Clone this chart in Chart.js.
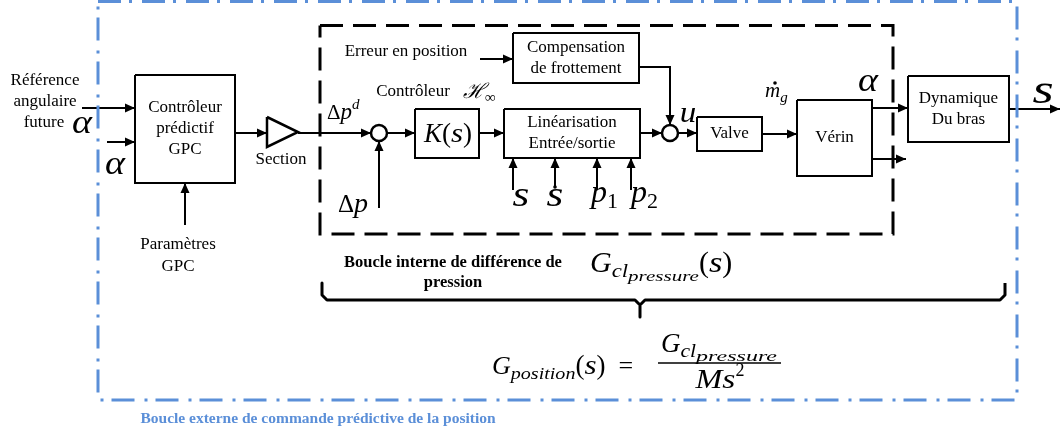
<!DOCTYPE html>
<html>
<head>
<meta charset="utf-8">
<script src="https://cdn.jsdelivr.net/npm/chart.js@4.4.1/dist/chart.umd.min.js"></script>
<style>
  html, body { margin: 0; padding: 0; background: #fff; }
  canvas { display: block; }
</style>
</head>
<body>
<canvas id="diagram" width="1060" height="434"></canvas>
<script>
// block texts and their boxes (diagram units, same as the 1060x434 frame)
var blockNames = ["Contrôleur\nprédictif\nGPC", "Compensation\nde frottement", "", "Linéarisation\nEntrée/sortie", "Valve", "Vérin", "Dynamique\nDu bras"];
var blockBoxes = [[135, 75, 235, 183], [513, 33, 639, 83], [415, 109, 479, 158], [504, 109, 640, 158], [697, 117, 762, 151], [797, 100, 872, 176], [908, 76, 1009, 142]];

// signal wires, every one ends with an arrow
var wirePaths = [
  [[82, 108], [135, 108]],
  [[107, 142], [135, 142]],
  [[185, 225], [185, 183]],
  [[235, 133], [267, 133]],
  [[298, 133], [371, 133]],
  [[379, 208], [379, 141]],
  [[387, 133], [415, 133]],
  [[479, 133], [504, 133]],
  [[480, 59], [513, 59]],
  [[513, 190], [513, 158]],
  [[555, 187], [555, 158]],
  [[597, 190], [597, 158]],
  [[631, 190], [631, 158]],
  [[640, 133], [662, 133]],
  [[639, 67], [670, 67], [670, 125]],
  [[678, 133], [697, 133]],
  [[762, 134], [797, 134]],
  [[872, 108], [908, 108]],
  [[872, 159], [906, 159]],
  [[1009, 109], [1060, 109]]
];

var sumPoints = [[379, 133], [670, 133]];
var gainTriangle = [[267, 117], [267, 147], [298, 132]];
var innerLoop = [320, 25.5, 893, 234];
var outerLoop = [98, 1.5, 1017, 400];
var bracePath = [[322, 283], [322, 295], [327, 300], [635, 300], [640, 305], [640, 317], [640, 305], [645, 300], [1000, 300], [1005, 295], [1005, 283]];

// plain labels: text, x, y, kind
var labelTexts = [
  ["Référence", 45, 81, "n"], ["angulaire", 45, 102, "n"], ["future", 44, 123, "n"],
  ["Section", 281, 160, "n"],
  ["Paramètres", 178, 245, "n"], ["GPC", 178, 267, "n"],
  ["Erreur en position", 406, 52, "n"],
  ["Contrôleur", 413, 92, "n"],
  ["Boucle interne de différence de", 453, 263, "b"], ["pression", 453, 283, "b"],
  ["Boucle externe de commande prédictive de la position", 318, 419, "blue"]
];

// math runs: [text, size, italic?, dy, stretch]
var mathLabels = [
  [82, 133, "center", [["α", 33, "i", 0, 1.15]]],
  [115, 174, "center", [["α", 33, "i", 0, 1.15]]],
  [327, 119, "left", [["Δ", 21, "n", 0], ["p", 23, "i", 0], ["d", 15, "i", -10]]],
  [338, 212, "left", [["Δ", 25, "n", 0], ["p", 28, "i", 0]]],
  [463, 98, "left", [["ℋ", 21, "i", 0], ["∞", 15, "n", 4]]],
  [448, 142, "center", [["K", 27, "i", 0], ["(", 27, "n", 0], ["s", 27, "i", 0, 1.15], [")", 27, "n", 0]]],
  [521, 206, "center", [["s", 36, "i", 0, 1.2]]],
  [555, 206, "center", [["s", 36, "i", 0, 1.2]]],
  [591, 202, "left", [["p", 32, "i", 0], ["1", 22, "n", 6]]],
  [631, 202, "left", [["p", 32, "i", 0], ["2", 22, "n", 6]]],
  [688, 122, "center", [["u", 30, "i", 0, 1.1]]],
  [765, 97, "left", [["m", 21, "i", 0], ["g", 15, "i", 5]]],
  [868, 91, "center", [["α", 33, "i", 0, 1.15]]],
  [1043, 103, "center", [["s", 42, "i", 0, 1.3]]],
  [590, 272, "left", [["G", 30, "i", 0], ["cl", 19, "i", 5, 1.2], ["pressure", 15, "i", 9, 1.4], ["(", 30, "n", 0], ["s", 30, "i", 0, 1.15], [")", 30, "n", 0]]],
  [492, 374, "left", [["G", 26, "i", 0], ["position", 17, "i", 5, 1.18], ["(", 27, "n", 0], ["s", 27, "i", 0, 1.15], [")", 27, "n", 0], ["  =", 26, "n", 0]]],
  [719, 352, "center", [["G", 27, "i", 0], ["cl", 18, "i", 5, 1.2], ["pressure", 15, "i", 9, 1.6]]],
  [720, 388, "center", [["M", 28, "i", 0, 1.15], ["s", 28, "i", 0, 1.2], ["2", 18, "n", -12]]]
];
var fractionBar = [[658, 363], [781, 363]];
var dotMarks = [[555, 187], [775, 83]];

var BLUE = "#5b8fd8";
var SERIF = '"Liberation Serif", "DejaVu Serif", serif';

function rectPoints(b) {
  return [{x: b[0], y: b[1]}, {x: b[2], y: b[1]}, {x: b[2], y: b[3]}, {x: b[0], y: b[3]}, {x: b[0], y: b[1]}];
}
function toPoints(list) {
  return list.map(function (p) { return {x: p[0], y: p[1]}; });
}
function lineSet(pts, color, width, dash) {
  return {
    type: "line", data: pts, showLine: true, borderColor: color, borderWidth: width,
    borderDash: dash, pointRadius: 0, fill: false, tension: 0, clip: false,
    borderJoinStyle: "miter", borderCapStyle: "butt"
  };
}

var datasets = [];
datasets.push(lineSet(rectPoints(outerLoop), BLUE, 3, [23, 8, 3, 10]));
datasets.push(lineSet(rectPoints(innerLoop), "#000", 3, [23, 10]));
blockBoxes.forEach(function (b) { datasets.push(lineSet(rectPoints(b), "#000", 2, [])); });
wirePaths.forEach(function (w) { datasets.push(lineSet(toPoints(w), "#000", 2, [])); });
datasets.push(lineSet(toPoints(gainTriangle.concat([gainTriangle[0]])), "#000", 2.5, []));
var brace = lineSet(toPoints(bracePath), "#000", 3, []);
brace.borderJoinStyle = "round";
datasets.push(brace);
datasets.push(lineSet(toPoints(fractionBar), "#000", 1.5, []));

function mathFont(r) {
  return (r[2] === "i" ? "italic " : "") + r[1] + "px " + SERIF;
}

var diagramPlugin = {
  id: "diagram",
  afterDatasetsDraw: function (chart) {
    var ctx = chart.ctx;
    var xs = chart.scales.x, ys = chart.scales.y;
    var X = function (v) { return xs.getPixelForValue(v); };
    var Y = function (v) { return ys.getPixelForValue(v); };
    ctx.save();

    // arrow heads
    ctx.fillStyle = "#000";
    wirePaths.forEach(function (w) {
      var a = w[w.length - 2], b = w[w.length - 1];
      var ang = Math.atan2(Y(b[1]) - Y(a[1]), X(b[0]) - X(a[0]));
      var L = 10, H = 4.5;
      ctx.beginPath();
      ctx.moveTo(X(b[0]), Y(b[1]));
      ctx.lineTo(X(b[0]) - L * Math.cos(ang) + H * Math.sin(ang), Y(b[1]) - L * Math.sin(ang) - H * Math.cos(ang));
      ctx.lineTo(X(b[0]) - L * Math.cos(ang) - H * Math.sin(ang), Y(b[1]) - L * Math.sin(ang) + H * Math.cos(ang));
      ctx.closePath();
      ctx.fill();
    });

    // summing points
    ctx.strokeStyle = "#000";
    ctx.lineWidth = 2.5;
    sumPoints.forEach(function (p) {
      ctx.beginPath();
      ctx.arc(X(p[0]), Y(p[1]), 8, 0, Math.PI * 2);
      ctx.stroke();
    });

    dotMarks.forEach(function (p) {
      ctx.beginPath();
      ctx.arc(X(p[0]), Y(p[1]), 1.8, 0, Math.PI * 2);
      ctx.fill();
    });

    // block texts
    ctx.textAlign = "center";
    ctx.textBaseline = "middle";
    ctx.font = "17px " + SERIF;
    blockNames.forEach(function (name, i) {
      if (!name) return;
      var b = blockBoxes[i];
      var lines = name.split("\n");
      var cx = (b[0] + b[2]) / 2, cy = (b[1] + b[3]) / 2;
      var step = 21;
      lines.forEach(function (ln, k) {
        ctx.fillText(ln, X(cx), Y(cy + (k - (lines.length - 1) / 2) * step));
      });
    });

    labelTexts.forEach(function (t) {
      if (t[3] === "b") { ctx.font = "bold 16.5px " + SERIF; ctx.fillStyle = "#000"; }
      else if (t[3] === "blue") { ctx.font = "bold 15.5px " + SERIF; ctx.fillStyle = BLUE; }
      else { ctx.font = "17px " + SERIF; ctx.fillStyle = "#000"; }
      ctx.fillText(t[0], X(t[1]), Y(t[2]));
    });

    // math, each run may be stretched sideways to get the wider TeX look
    ctx.fillStyle = "#000";
    ctx.textAlign = "left";
    ctx.textBaseline = "alphabetic";
    mathLabels.forEach(function (m) {
      var runs = m[3], w = 0;
      runs.forEach(function (r) { ctx.font = mathFont(r); w += ctx.measureText(r[0]).width * (r[4] || 1); });
      var cx = m[2] === "center" ? X(m[0]) - w / 2 : X(m[0]);
      runs.forEach(function (r) {
        var sx = r[4] || 1;
        ctx.font = mathFont(r);
        ctx.save();
        ctx.translate(cx, Y(m[1] + r[3]));
        ctx.scale(sx, 1);
        ctx.fillText(r[0], 0, 0);
        ctx.restore();
        cx += ctx.measureText(r[0]).width * sx;
      });
    });
    ctx.restore();
  }
};

var chart = new Chart(document.getElementById("diagram"), {
  type: "scatter",
  data: {datasets: datasets},
  options: {
    responsive: false,
    animation: false,
    events: [],
    layout: {padding: 0},
    plugins: {legend: {display: false}, tooltip: {enabled: false}},
    scales: {
      x: {type: "linear", min: 0, max: 1060, display: false},
      y: {type: "linear", min: 0, max: 434, reverse: true, display: false}
    }
  },
  plugins: [diagramPlugin]
});
</script>
</body>
</html>
